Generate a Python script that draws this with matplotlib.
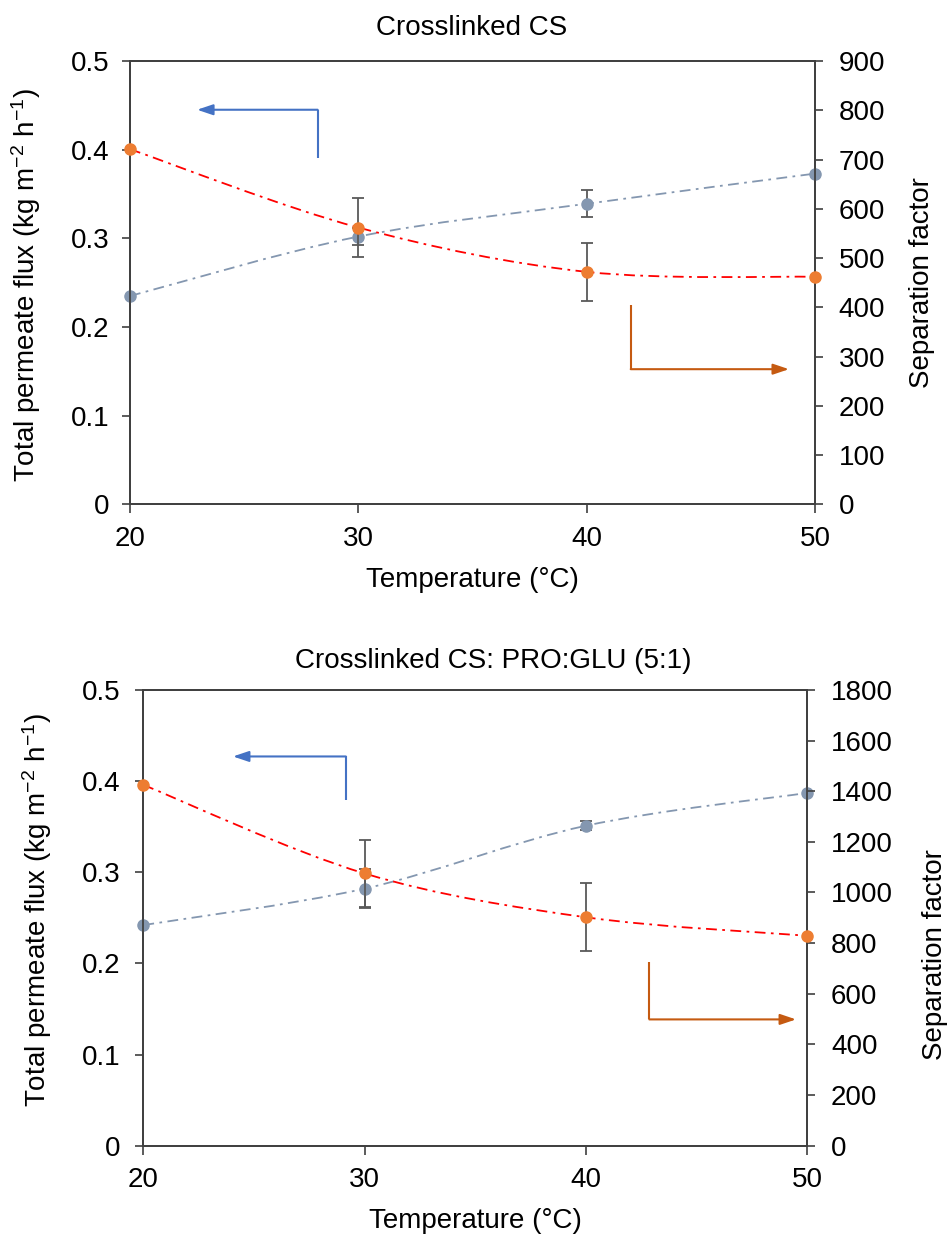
import numpy as np
import matplotlib
matplotlib.use("Agg")
import matplotlib.pyplot as plt
from matplotlib.path import Path
from matplotlib.patches import PathPatch

# ---------------- data ----------------
temps = [20, 30, 40, 50]
temp_ticks = [20, 30, 40, 50]

flux_ticks = [0, 0.1, 0.2, 0.3, 0.4, 0.5]
flux_tick_labels = ["0", "0.1", "0.2", "0.3", "0.4", "0.5"]

# Panel 1: Crosslinked CS
flux_cs = [0.235, 0.302, 0.339, 0.373]
flux_cs_err = [0, 0.010, 0.015, 0]
sf_cs = [721, 562, 472, 462]
sf_cs_err = [0, 60, 59, 0]
sf_cs_ticks = [0, 100, 200, 300, 400, 500, 600, 700, 800, 900]

# Panel 2: Crosslinked CS: PRO:GLU (5:1)
flux_pg = [0.242, 0.282, 0.351, 0.387]
flux_pg_err = [0, 0.021, 0.005, 0]
sf_pg = [1425, 1075, 902, 829]
sf_pg_err = [0, 133, 134, 0]
sf_pg_ticks = [0, 200, 400, 600, 800, 1000, 1200, 1400, 1600, 1800]

titles = ["Crosslinked CS", "Crosslinked CS: PRO:GLU (5:1)"]
xlabel = "Temperature (°C)"
ylabel_left = "Total permeate flux (kg m$^{-2}$ h$^{-1}$)"
ylabel_right = "Separation factor"

# ---------------- style ----------------
plt.rcParams["font.family"] = ["Liberation Sans", "DejaVu Sans"]
plt.rcParams["mathtext.fontset"] = "custom"
plt.rcParams["mathtext.rm"] = "Liberation Sans"
plt.rcParams["mathtext.it"] = "Liberation Sans:italic"
plt.rcParams["mathtext.bf"] = "Liberation Sans:bold"

FS = 20
SPINE = "#404040"
ORANGE = "#ED7D31"
RED = "#FF0000"
GREY = "#8497B0"
ERR = "#595959"
BLUE_ARROW = "#4472C4"
ORANGE_ARROW = "#C55A11"
DASHDOT = (0, (6, 3, 1.5, 3))


def smooth_path(x, y):
    pts = np.column_stack([x, y]).astype(float)
    n = len(pts)
    verts = [pts[0]]
    codes = [Path.MOVETO]
    for i in range(n - 1):
        p0 = pts[max(i - 1, 0)]
        p1 = pts[i]
        p2 = pts[i + 1]
        p3 = pts[min(i + 2, n - 1)]
        c1 = p1 + (p2 - p0) / 6.0
        c2 = p2 - (p3 - p1) / 6.0
        verts += [c1, c2, p2]
        codes += [Path.CURVE4] * 3
    return Path(verts, codes)


def draw_arrow(ax, x0, y0, y1, xtip, color):
    ax.plot([x0, x0], [y0, y1], transform=ax.transAxes, color=color, lw=1.5,
            solid_capstyle="butt", clip_on=False, zorder=6)
    ax.annotate("", xy=(xtip, y1), xycoords="axes fraction",
                xytext=(x0, y1), textcoords="axes fraction",
                arrowprops=dict(arrowstyle="-|>,head_length=0.95,head_width=0.32",
                                color=color, lw=1.5, shrinkA=0, shrinkB=0,
                                mutation_scale=10),
                zorder=6)


def panel(rect, flux, flux_err, sf, sf_err, sf_ticks, title, title_xy,
          xlab_y, ylab_left_x, ylab_left_y, ylab_right_x, ylab_right_y,
          blue_arrow, orange_arrow, ypad_left, ypad_right):
    ax = fig.add_axes(rect)
    ax2 = ax.twinx()
    ax.set_zorder(1)
    ax2.set_zorder(2)
    ax.patch.set_visible(False)
    ax2.patch.set_visible(False)

    # flux (left axis)
    ax.add_patch(PathPatch(smooth_path(temps, flux), fill=False, edgecolor=GREY,
                           lw=1.3, linestyle=DASHDOT, zorder=2))
    idx = [i for i, e in enumerate(flux_err) if e > 0]
    ax.errorbar([temps[i] for i in idx], [flux[i] for i in idx],
                yerr=[flux_err[i] for i in idx], fmt="none", ecolor=ERR,
                elinewidth=1.3, capsize=4, capthick=1.3, zorder=3)
    ax.plot(temps, flux, "o", color=GREY, ms=8, zorder=4, clip_on=False)

    # separation factor (right axis)
    ax2.add_patch(PathPatch(smooth_path(temps, sf), fill=False, edgecolor=RED,
                            lw=1.3, linestyle=DASHDOT, zorder=2))
    idx = [i for i, e in enumerate(sf_err) if e > 0]
    ax2.errorbar([temps[i] for i in idx], [sf[i] for i in idx],
                 yerr=[sf_err[i] for i in idx], fmt="none", ecolor=ERR,
                 elinewidth=1.3, capsize=4, capthick=1.3, zorder=3)
    ax2.plot(temps, sf, "o", color=ORANGE, ms=8, zorder=4, clip_on=False)

    ax.set_xlim(temps[0], temps[-1])
    ax.set_ylim(flux_ticks[0], flux_ticks[-1])
    ax2.set_ylim(sf_ticks[0], sf_ticks[-1])
    ax.set_xticks(temp_ticks)
    ax.set_xticklabels([str(t) for t in temp_ticks])
    ax.set_yticks(flux_ticks)
    ax.set_yticklabels(flux_tick_labels)
    ax2.set_yticks(sf_ticks)
    ax2.set_yticklabels([str(t) for t in sf_ticks])

    for a in (ax, ax2):
        for s in a.spines.values():
            s.set_color(SPINE)
            s.set_linewidth(1.3)
    ax.tick_params(axis="x", direction="out", length=6.5, width=1.2, color=SPINE,
                   labelsize=FS, pad=9)
    ax.tick_params(axis="y", direction="out", length=5.5, width=1.2, color=SPINE,
                   labelsize=FS, pad=ypad_left)
    ax2.tick_params(axis="y", direction="out", length=6, width=1.2, color=SPINE,
                    labelsize=FS, pad=ypad_right)

    ax.set_xlabel(xlabel, fontsize=FS)
    ax.xaxis.set_label_coords(0.5, xlab_y)
    ax.set_ylabel(ylabel_left, fontsize=FS)
    ax.yaxis.set_label_coords(ylab_left_x, ylab_left_y)
    ax2.set_ylabel(ylabel_right, fontsize=FS)
    ax2.yaxis.set_label_coords(ylab_right_x, ylab_right_y)

    fig.text(title_xy[0], title_xy[1], title, fontsize=FS, ha="center", va="center")

    draw_arrow(ax2, *blue_arrow, BLUE_ARROW)
    draw_arrow(ax2, *orange_arrow, ORANGE_ARROW)
    return ax, ax2


fig = plt.figure(figsize=(9.48, 12.34), dpi=100)

panel([0.1371, 0.5912, 0.7226, 0.3594], flux_cs, flux_cs_err, sf_cs, sf_cs_err,
      sf_cs_ticks, titles[0], (472 / 948, 1 - 28 / 1234),
      -0.141, -0.127, 0.495, 1.137, 0.5,
      (0.274, 0.781, 0.890, 0.098), (0.731, 0.449, 0.305, 0.962), 9, 11)

panel([0.1512, 0.0716, 0.7004, 0.3693], flux_pg, flux_pg_err, sf_pg, sf_pg_err,
      sf_pg_ticks, titles[1], (493 / 948, 1 - 661 / 1234),
      -0.137, -0.135, 0.517, 1.172, 0.42,
      (0.305, 0.759, 0.854, 0.135), (0.762, 0.402, 0.277, 0.983), 11, 11)

fig.savefig("out.png", dpi=100)
